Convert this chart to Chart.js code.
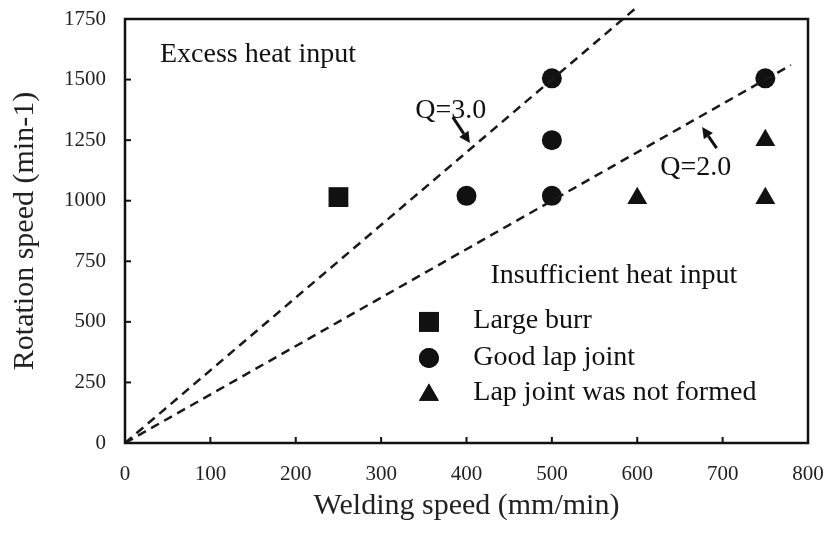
<!DOCTYPE html>
<html>
<head>
<meta charset="utf-8">
<script src="https://cdn.jsdelivr.net/npm/chart.js@4.4.0/dist/chart.umd.min.js"></script>
<style>
  body { margin: 0; background: #fff; }
  canvas { display: block; }
</style>
</head>
<body>
<canvas id="myChart" width="830" height="534"></canvas>
<script>
// data
const burrX = [250];
const burrY = [1015];
const goodX = [400, 500, 500, 500, 750];
const goodY = [1020, 1020, 1250, 1505, 1505];
const noJointX = [600, 750, 750];
const noJointY = [1010, 1010, 1250];
const q3X = [0, 597];   // Q=3.0 line
const q3Y = [0, 1791];
const q2X = [0, 780];   // Q=2.0 line
const q2Y = [0, 1560];

const legendLabels = ['Large burr', 'Good lap joint', 'Lap joint was not formed'];
const legendStyles = ['rect', 'circle', 'triangle'];

const serif = "'Liberation Serif', 'Times New Roman', serif";
const ink = '#111';

function pts(xs, ys) {
    var out = [];
    for (var i = 0; i < xs.length; i++) out.push({x: xs[i], y: ys[i]});
    return out;
}

// annotation text placed in data coordinates
const notes = [
    {text: 'Excess heat input', x: 41, y: 1572},
    {text: 'Q=3.0', x: 340, y: 1342},
    {text: 'Q=2.0', x: 627, y: 1106},
    {text: 'Insufficient heat input', x: 428, y: 660}
];
const arrows = [
    {from: [384, 1345], to: [404, 1238]},
    {from: [693, 1217], to: [676, 1304]}
];

const overlay = {
    id: 'overlay',
    afterDatasetsDraw(chart) {
        const {ctx, chartArea: a, scales: {x, y}} = chart;
        ctx.save();
        ctx.strokeStyle = ink;
        ctx.fillStyle = ink;

        // frame
        ctx.lineWidth = 2.5;
        ctx.strokeRect(a.left, a.top, a.right - a.left, a.bottom - a.top);

        // inward ticks
        ctx.lineWidth = 2;
        x.ticks.forEach(t => {
            const px = x.getPixelForValue(t.value);
            ctx.beginPath(); ctx.moveTo(px, a.bottom); ctx.lineTo(px, a.bottom - 6); ctx.stroke();
        });
        y.ticks.forEach(t => {
            const py = y.getPixelForValue(t.value);
            ctx.beginPath(); ctx.moveTo(a.left, py); ctx.lineTo(a.left + 6, py); ctx.stroke();
        });

        // texts
        ctx.font = '28px ' + serif;
        ctx.textBaseline = 'alphabetic';
        ctx.textAlign = 'left';
        notes.forEach(n => ctx.fillText(n.text, x.getPixelForValue(n.x), y.getPixelForValue(n.y)));

        // arrows
        ctx.lineWidth = 3;
        arrows.forEach(ar => {
            const x0 = x.getPixelForValue(ar.from[0]), y0 = y.getPixelForValue(ar.from[1]);
            const x1 = x.getPixelForValue(ar.to[0]), y1 = y.getPixelForValue(ar.to[1]);
            const ang = Math.atan2(y1 - y0, x1 - x0);
            const hl = 11, hw = 5.5;
            const bx = x1 - hl * Math.cos(ang), by = y1 - hl * Math.sin(ang);
            ctx.beginPath(); ctx.moveTo(x0, y0); ctx.lineTo(bx, by); ctx.stroke();
            ctx.beginPath();
            ctx.moveTo(x1, y1);
            ctx.lineTo(bx + hw * Math.sin(ang), by - hw * Math.cos(ang));
            ctx.lineTo(bx - hw * Math.sin(ang), by + hw * Math.cos(ang));
            ctx.closePath(); ctx.fill();
        });

        // legend inside the plot
        const legX = x.getPixelForValue(356);
        const textX = x.getPixelForValue(408);
        const rowY = [500, 351, 198];
        const baseY = [475, 322, 177];
        const radii = [14, 10, 11.5];
        for (var i = 0; i < legendLabels.length; i++) {
            Chart.helpers.drawPoint(ctx, {pointStyle: legendStyles[i], radius: radii[i], rotation: 0, borderWidth: 0},
                legX, y.getPixelForValue(rowY[i]));
            ctx.fill();
            ctx.fillText(legendLabels[i], textX, y.getPixelForValue(baseY[i]));
        }
        ctx.restore();
    }
};

new Chart(document.getElementById('myChart'), {
    type: 'scatter',
    data: {
        datasets: [
            {
                label: 'Q=3.0',
                type: 'line',
                data: pts(q3X, q3Y),
                borderColor: '#1a1a1a',
                borderWidth: 2.5,
                borderDash: [9, 6],
                pointRadius: 0,
                fill: false,
                clip: false
            },
            {
                label: 'Q=2.0',
                type: 'line',
                data: pts(q2X, q2Y),
                borderColor: '#1a1a1a',
                borderWidth: 2.5,
                borderDash: [9, 6],
                pointRadius: 0,
                fill: false,
                clip: false
            },
            {
                label: legendLabels[0],
                data: pts(burrX, burrY),
                pointStyle: 'rect',
                pointRadius: 14,
                backgroundColor: ink,
                borderColor: ink,
                borderWidth: 0
            },
            {
                label: legendLabels[1],
                data: pts(goodX, goodY),
                pointStyle: 'circle',
                pointRadius: 10,
                backgroundColor: ink,
                borderColor: ink,
                borderWidth: 0
            },
            {
                label: legendLabels[2],
                data: pts(noJointX, noJointY),
                pointStyle: 'triangle',
                pointRadius: 11.5,
                backgroundColor: ink,
                borderColor: ink,
                borderWidth: 0
            }
        ]
    },
    options: {
        responsive: false,
        animation: false,
        layout: {padding: {left: 0, right: 22, top: 19, bottom: 0}},
        plugins: {
            legend: {display: false},
            tooltip: {enabled: false}
        },
        scales: {
            x: {
                type: 'linear',
                min: 0,
                max: 800,
                ticks: {stepSize: 100, padding: 19, color: '#222', font: {family: serif, size: 21},
                        callback: v => String(v)},
                grid: {display: false, drawTicks: false},
                border: {display: false},
                title: {display: true, text: 'Welding speed (mm/min)', color: '#222',
                        font: {family: serif, size: 30}, padding: {top: 0, bottom: 10}},
                afterFit: s => { s.height = 91; s.paddingLeft = 0; s.paddingRight = 0; }
            },
            y: {
                type: 'linear',
                min: 0,
                max: 1750,
                ticks: {stepSize: 250, padding: 19, color: '#222', font: {family: serif, size: 21},
                        callback: v => String(v)},
                grid: {display: false, drawTicks: false},
                border: {display: false},
                title: {display: true, text: 'Rotation speed (min-1)', color: '#222',
                        font: {family: serif, size: 30}, padding: {top: 7, bottom: 0}},
                afterFit: s => { s.width = 125; s.paddingTop = 0; s.paddingBottom = 0; }
            }
        }
    },
    plugins: [overlay]
});
</script>
</body>
</html>
